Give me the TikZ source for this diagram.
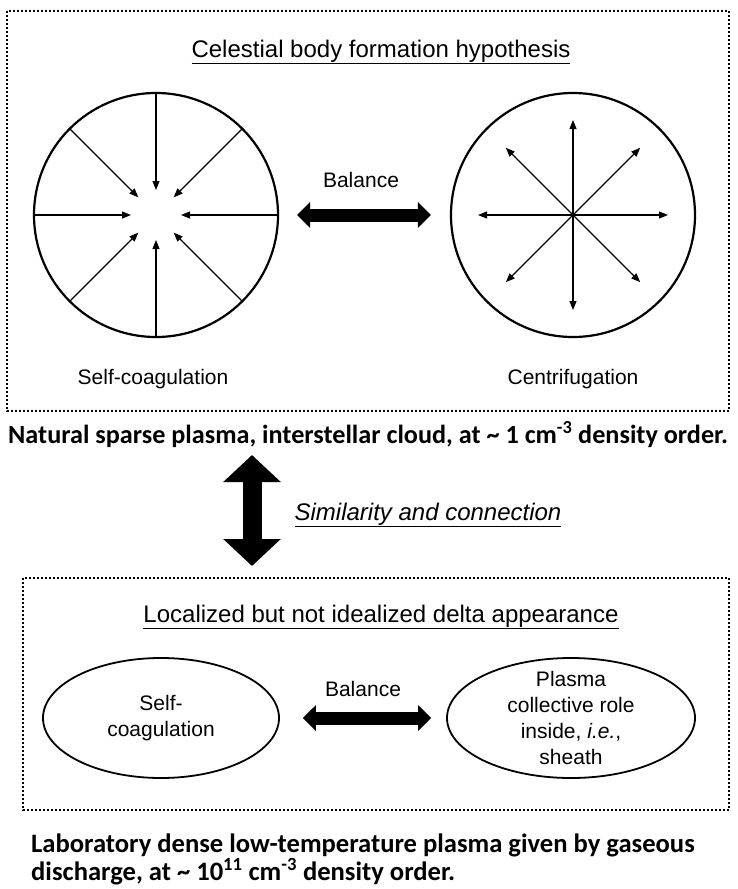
\documentclass[tikz,border=0pt]{standalone}
\usepackage{fontspec}
\setmainfont{Liberation Sans}
\newfontfamily\calibri{Carlito}
\usetikzlibrary{arrows.meta, shapes.geometric, calc}

\begin{document}
\begin{tikzpicture}[x=1pt, y=-1pt,
		every node/.style={inner sep=0pt},
		dotbox/.style={dotted, line width=2pt},
		sphere/.style={circle, draw, line width=2.2pt, minimum size=244pt},
		blob/.style={ellipse, draw, line width=1.8pt, minimum height=120pt},
		ray/.style={line width=1.1pt, -{Triangle[length=9pt, width=7pt]}},
		fat/.style={line width=13pt, {Triangle[length=13pt, width=25pt]}-{Triangle[length=13pt, width=25pt]}},
		fatter/.style={line width=19pt, {Triangle[length=27pt, width=56pt]}-{Triangle[length=27pt, width=56pt]}},
		txt/.style={font=\fontsize{21}{25.7}\selectfont, align=center},
		heading/.style={font=\fontsize{24}{28}\selectfont, anchor=base},
		remark/.style={font=\calibri\bfseries\fontsize{26.6}{28}\selectfont, anchor=base west, align=left}]
	\useasboundingbox (0,0) rectangle (738,889);

	% interstellar cloud
	\draw[dotbox] (7,11) rectangle (729,411);
	\node[heading] (hyp) at (381,57) {\underline{Celestial body formation hypothesis}};
	\node[sphere] (cloud) at (156,215) {};
	\node[sphere] (spin) at (573,215) {};
	\foreach \a in {0,45,...,315} {
		\draw[ray] (cloud.\a) -- ($(cloud.center)!25pt!(cloud.\a)$);
		\draw[ray] (spin.center) -- ($(spin.center)!95pt!(spin.\a)$);
	}
	\draw[fat, shorten <=18pt, shorten >=19pt] (cloud) -- (spin);
	\node[txt, anchor=base] (bal1) at (361,187) {Balance};
	\node[txt, anchor=base] (coag1) at (153,384) {Self-coagulation};
	\node[txt, anchor=base] (centr) at (573,384) {Centrifugation};
	\node[remark, font=\calibri\bfseries\fontsize{26.2}{28}\selectfont] (natural) at (8,443) {Natural sparse plasma, interstellar cloud, at \textasciitilde{} 1 cm\textsuperscript{-3} density order.};

	% link between the two
	\coordinate (up) at (252,455);
	\coordinate (down) at (252,566);
	\draw[fatter] (up) -- (down);
	\node[heading] (sim) at (428,520) {\underline{\itshape Similarity and connection}};

	% laboratory plasma
	\draw[dotbox] (23,578) rectangle (729,810);
	\node[heading] (ideal) at (381,622) {\underline{Localized but not idealized delta appearance}};
	\node[blob, minimum width=236pt] (coag2) at (161,718) {};
	\node[blob, minimum width=248pt] (sheath) at (571,718) {};
	\node[txt] at (coag2) {Self-\\coagulation};
	\node[txt] at (sheath) {Plasma\\collective role\\inside, \textit{i.e.},\\sheath};
	\draw[fat, shorten <=23pt, shorten >=15pt] (coag2) -- (sheath);
	\node[txt, anchor=base] (bal2) at (363,696) {Balance};
	\node[remark] (lab) at (31,880) {Laboratory dense low-temperature plasma given by gaseous\\discharge, at \textasciitilde{} 10\textsuperscript{11} cm\textsuperscript{-3} density order.};
\end{tikzpicture}
\end{document}
